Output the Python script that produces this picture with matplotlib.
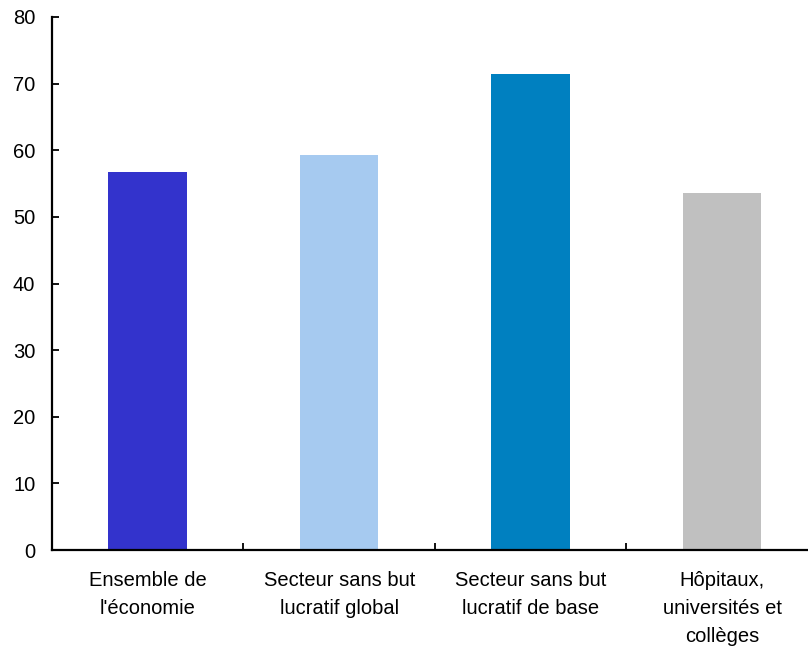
import matplotlib

matplotlib.use("Agg")
import matplotlib.pyplot as plt
from matplotlib.ticker import FixedLocator

plt.rcParams["font.family"] = ["Liberation Sans", "DejaVu Sans"]

categories = [
    "Ensemble de\nl'économie",
    "Secteur sans but\nlucratif global",
    "Secteur sans but\nlucratif de base",
    "Hôpitaux,\nuniversités et\ncollèges",
]
values = [56.7, 59.3, 71.5, 53.6]
colors = ["#3333CC", "#A6CAF0", "#0080C0", "#C0C0C0"]
y_ticks = [0, 10, 20, 30, 40, 50, 60, 70, 80]

W, H = 808, 647
fig = plt.figure(figsize=(W / 100, H / 100), dpi=100)
ax = fig.add_axes([52 / W, (H - 550) / H, (808 - 52) / W, (550 - 17) / H])

x = range(len(categories))
ax.bar(x, values, width=0.41, color=colors, edgecolor="none", zorder=2)

ax.set_xlim(-0.5, 3.448)
ax.set_ylim(0, 80)
ax.set_yticks(y_ticks)

ax.set_xticks(list(x))
ax.set_xticklabels(categories, fontsize=14.5, linespacing=1.62, color="#000000")
ax.xaxis.set_minor_locator(FixedLocator([0.5, 1.5, 2.5]))
ax.tick_params(axis="x", which="major", length=0, pad=15)
ax.tick_params(axis="x", which="minor", direction="in", length=5, width=1.3, color="#000000")
ax.tick_params(axis="y", direction="in", length=5, width=1.3, labelsize=14.5, pad=12, color="#000000")

for side in ("top", "right"):
    ax.spines[side].set_visible(False)
for side in ("left", "bottom"):
    ax.spines[side].set_linewidth(1.6)
    ax.spines[side].set_color("#000000")

fig.savefig("out.png", dpi=100)
